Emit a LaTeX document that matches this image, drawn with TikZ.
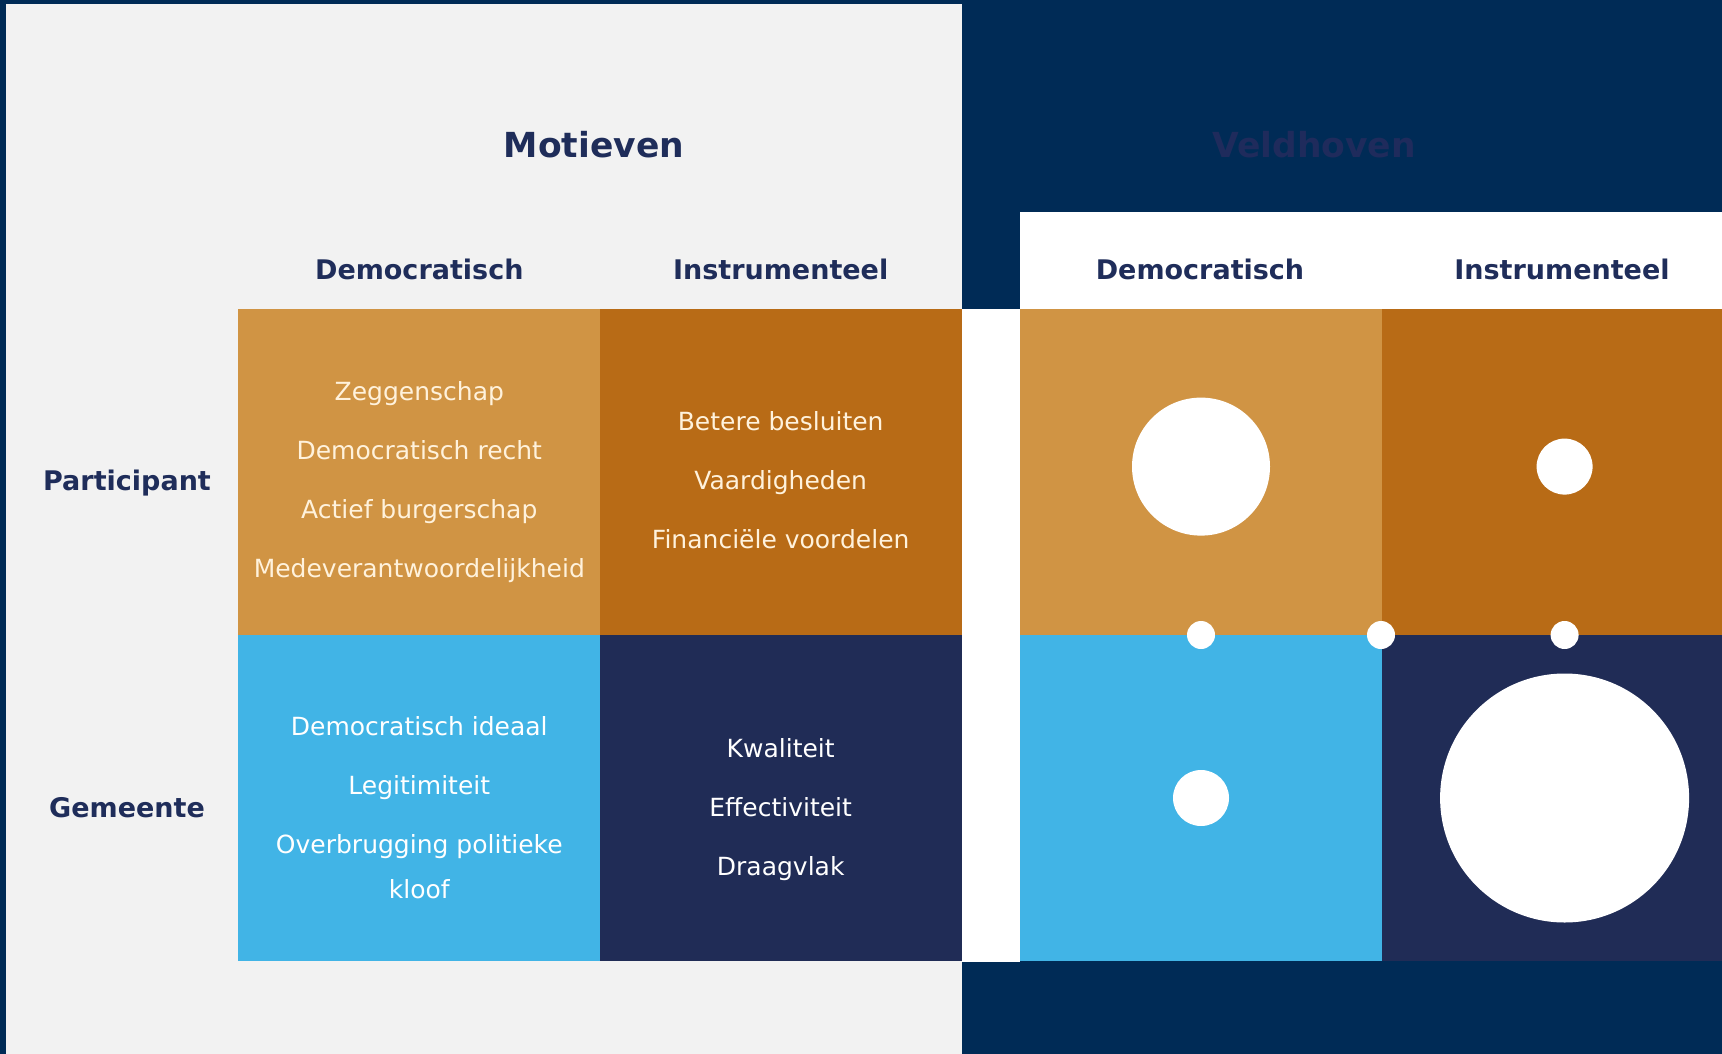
\documentclass[tikz,border=0pt]{standalone}
\usepackage{fontspec}
\setmainfont{DejaVu Sans}
\usetikzlibrary{positioning}
\definecolor{navybg}{HTML}{002B56}
\definecolor{greybg}{HTML}{F2F2F2}
\definecolor{inktext}{HTML}{1F2D5A}
\definecolor{veldtext}{HTML}{1F2B5C}
\definecolor{lightorange}{HTML}{D09444}
\definecolor{darkorange}{HTML}{B86B16}
\definecolor{lightblue}{HTML}{41B4E6}
\definecolor{darknavy}{HTML}{202C56}
\definecolor{creamtext}{HTML}{FFF2DC}

\begin{document}
\begin{tikzpicture}[x=1pt,y=-1pt,
	cell/.style={inner sep=0pt,minimum width=362pt,minimum height=326pt},
	celltext/.style={text=creamtext,align=center,font=\fontsize{25}{59}\selectfont},
	header/.style={text=inktext,font=\fontsize{27}{30}\selectfont\bfseries},
	dot/.style={circle,fill=white,inner sep=0pt}]
	\useasboundingbox (0,0) rectangle (1722,1054);
	\clip (0,0) rectangle (1722,1054);
	\fill[navybg] (0,0) rectangle (1722,1054);
	\fill[greybg] (5.5,4.5) rectangle (962,1054);
	\fill[white] (1020,212) rectangle (1722,308.5);
	\fill[white] (962,308.5) rectangle (1020,962);

	% titles
	\node[text=inktext,font=\fontsize{34.5}{38}\selectfont\bfseries] (motieven) at (594,145) {Motieven};
	\node[text=veldtext,font=\fontsize{34.5}{38}\selectfont\bfseries] (veldhoven) at (1314,145) {Veldhoven};

	% left grid
	\node[cell,fill=lightorange] (pdem) at (419.3,471.5) {};
	\node[cell,fill=darkorange] (pins) at (781.3,471.5) {};
	\node[cell,fill=lightblue] (gdem) at (419.3,798.3) {};
	\node[cell,fill=darknavy] (gins) at (781.3,798.3) {};

	% right grid
	\node[cell,fill=lightorange] (vpdem) at (1200.5,471.5) {};
	\node[cell,fill=darkorange] (vpins) at (1562.5,471.5) {};
	\node[cell,fill=lightblue] (vgdem) at (1200.5,798.3) {};
	\node[cell,fill=darknavy] (vgins) at (1562.5,798.3) {};

	% headers
	\node[header] (hdem) at (419.3,269) {Democratisch};
	\node[header] (hins) at (780.7,269) {Instrumenteel};
	\node[header] (vhdem) at (1200,269) {Democratisch};
	\node[header] (vhins) at (1562,269) {Instrumenteel};
	\node[header] (participant) at (127,483) {Participant};
	\node[header] (gemeente) at (127,808) {Gemeente};

	% cell texts
	\node[celltext] (tpdem) at (419.3,482) {Zeggenschap\\Democratisch recht\\Actief burgerschap\\Medeverantwoordelijkheid};
	\node[celltext] (tpins) at (780.7,480) {Betere besluiten\\Vaardigheden\\Financiële voordelen};
	\node[celltext,text=white] (tgdem) at (419.3,808) {Democratisch ideaal\\Legitimiteit\\Overbrugging politieke\\[-14pt]kloof};
	\node[celltext,text=white] (tgins) at (780.7,810) {Kwaliteit\\Effectiviteit\\Draagvlak};

	% scores
	\node[dot,minimum size=138pt] (spdem) at (1201,466.6) {};
	\node[dot,minimum size=56pt] (spins) at (1564.6,466.6) {};
	\node[dot,minimum size=56pt] (sgdem) at (1201,798) {};
	\node[dot,minimum size=249pt] (sgins) at (1564.6,798) {};
	\node[dot,minimum size=28pt] (sdem) at (1201,635) {};
	\node[dot,minimum size=28pt] (smid) at (1381,635) {};
	\node[dot,minimum size=28pt] (sins) at (1564.6,635) {};
\end{tikzpicture}
\end{document}
